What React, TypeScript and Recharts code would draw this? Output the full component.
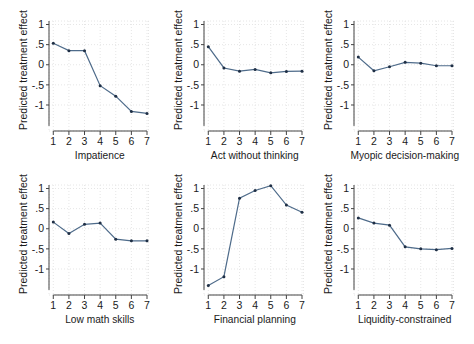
import React from "react"
import {
  LineChart,
  Line,
  XAxis,
  YAxis,
  CartesianGrid,
  ReferenceLine,
} from "recharts"

// answer levels on each trait scale
const levels = [1, 2, 3, 4, 5, 6, 7]
const yTicks = [1, 0.5, 0, -0.5, -1]

const impatience = [0.535, 0.35, 0.35, -0.52, -0.78, -1.16, -1.21]
const actWithoutThinking = [0.45, -0.08, -0.16, -0.115, -0.2, -0.165, -0.16]
const myopicDecisionMaking = [0.19, -0.15, -0.05, 0.06, 0.04, -0.025, -0.025]
const lowMathSkills = [0.165, -0.12, 0.11, 0.14, -0.26, -0.3, -0.3]
const financialPlanning = [-1.41, -1.19, 0.76, 0.95, 1.07, 0.59, 0.41]
const liquidityConstrained = [0.27, 0.14, 0.09, -0.45, -0.5, -0.52, -0.49]

const titles = [
  "Impatience",
  "Act without thinking",
  "Myopic decision-making",
  "Low math skills",
  "Financial planning",
  "Liquidity-constrained",
]
const series = [
  impatience,
  actWithoutThinking,
  myopicDecisionMaking,
  lowMathSkills,
  financialPlanning,
  liquidityConstrained,
]

// scale limits (stata-ish: y axis stops short of the x axis)
const X_MIN = 0.725
const X_MAX = 7.096
const Y_MIN = -1.646
const Y_MAX = 1.087
const Y_AXIS_LOW = -1.52

const FONT = "'Liberation Sans', Arial, sans-serif"
const TEXT = "#1a1a1a"
const AXIS = "#444"
const LINE = "#4e6b8a"
const DOT = "#1f2f45"

const colX = [0, 155, 305]
const rowY = [0, 164]

const fmtY = (v: number) => (v === 0 ? "0" : String(v).replace("0.", "."))

function YTitle(props: any) {
  const vb = props.viewBox || {}
  const x = (vb.x ?? 0) + 23
  const y = (vb.y ?? 0) + 49
  return (
    <text
      x={x}
      y={y}
      transform={`rotate(-90, ${x}, ${y})`}
      textAnchor="middle"
      dominantBaseline="central"
      fontSize={10.5}
      fontFamily={FONT}
      fill={TEXT}
    >
      Predicted treatment effect
    </text>
  )
}

function XTitle(props: any & { text: string }) {
  const vb = props.viewBox || {}
  return (
    <text
      x={(vb.x ?? 0) + (vb.width ?? 0) / 2 + 1}
      y={(vb.y ?? 0) + 24}
      textAnchor="middle"
      dominantBaseline="central"
      fontSize={10.2}
      fontFamily={FONT}
      fill={TEXT}
    >
      {props.text}
    </text>
  )
}

function Panel({ title, values }: { title: string; values: number[] }) {
  const data = levels.map((x, i) => ({ x, y: values[i] }))
  return (
    <LineChart
      width={155}
      height={164}
      data={data}
      margin={{ top: 21, right: 6.5, left: 0, bottom: 0 }}
    >
      <CartesianGrid stroke="#e6e6e6" strokeDasharray="1 2" />
      <XAxis
        dataKey="x"
        type="number"
        domain={[X_MIN, X_MAX]}
        ticks={levels}
        interval={0}
        height={33}
        axisLine={false}
        tickLine={{ stroke: AXIS }}
        tickSize={4}
        tickMargin={3}
        tick={{ fontSize: 10.5, fill: TEXT, fontFamily: FONT }}
        label={<XTitle text={title} />}
      />
      <YAxis
        type="number"
        domain={[Y_MIN, Y_MAX]}
        ticks={yTicks}
        interval={0}
        width={49}
        axisLine={false}
        tickLine={{ stroke: AXIS }}
        tickSize={3}
        tickMargin={2}
        tickFormatter={fmtY}
        tick={{ fontSize: 10.5, fill: TEXT, fontFamily: FONT }}
        label={<YTitle />}
      />
      <ReferenceLine
        segment={[
          { x: X_MIN, y: Y_AXIS_LOW },
          { x: X_MIN, y: Y_MAX },
        ]}
        stroke={AXIS}
        strokeWidth={1}
      />
      <ReferenceLine
        segment={[
          { x: 1, y: Y_MIN },
          { x: 7, y: Y_MIN },
        ]}
        stroke={AXIS}
        strokeWidth={1}
      />
      <Line
        dataKey="y"
        type="linear"
        stroke={LINE}
        strokeWidth={1.2}
        dot={{ r: 1.5, fill: DOT, stroke: "none" }}
        activeDot={false}
        isAnimationActive={false}
      />
    </LineChart>
  )
}

export default function App() {
  return (
    <div
      style={{
        position: "absolute",
        left: 0,
        top: 0,
        width: 474,
        height: 344,
        background: "#fff",
      }}
    >
      {titles.map((t, i) => (
        <div
          key={t}
          style={{
            position: "absolute",
            left: colX[i % 3],
            top: rowY[Math.floor(i / 3)],
          }}
        >
          <Panel title={t} values={series[i]} />
        </div>
      ))}
    </div>
  )
}
